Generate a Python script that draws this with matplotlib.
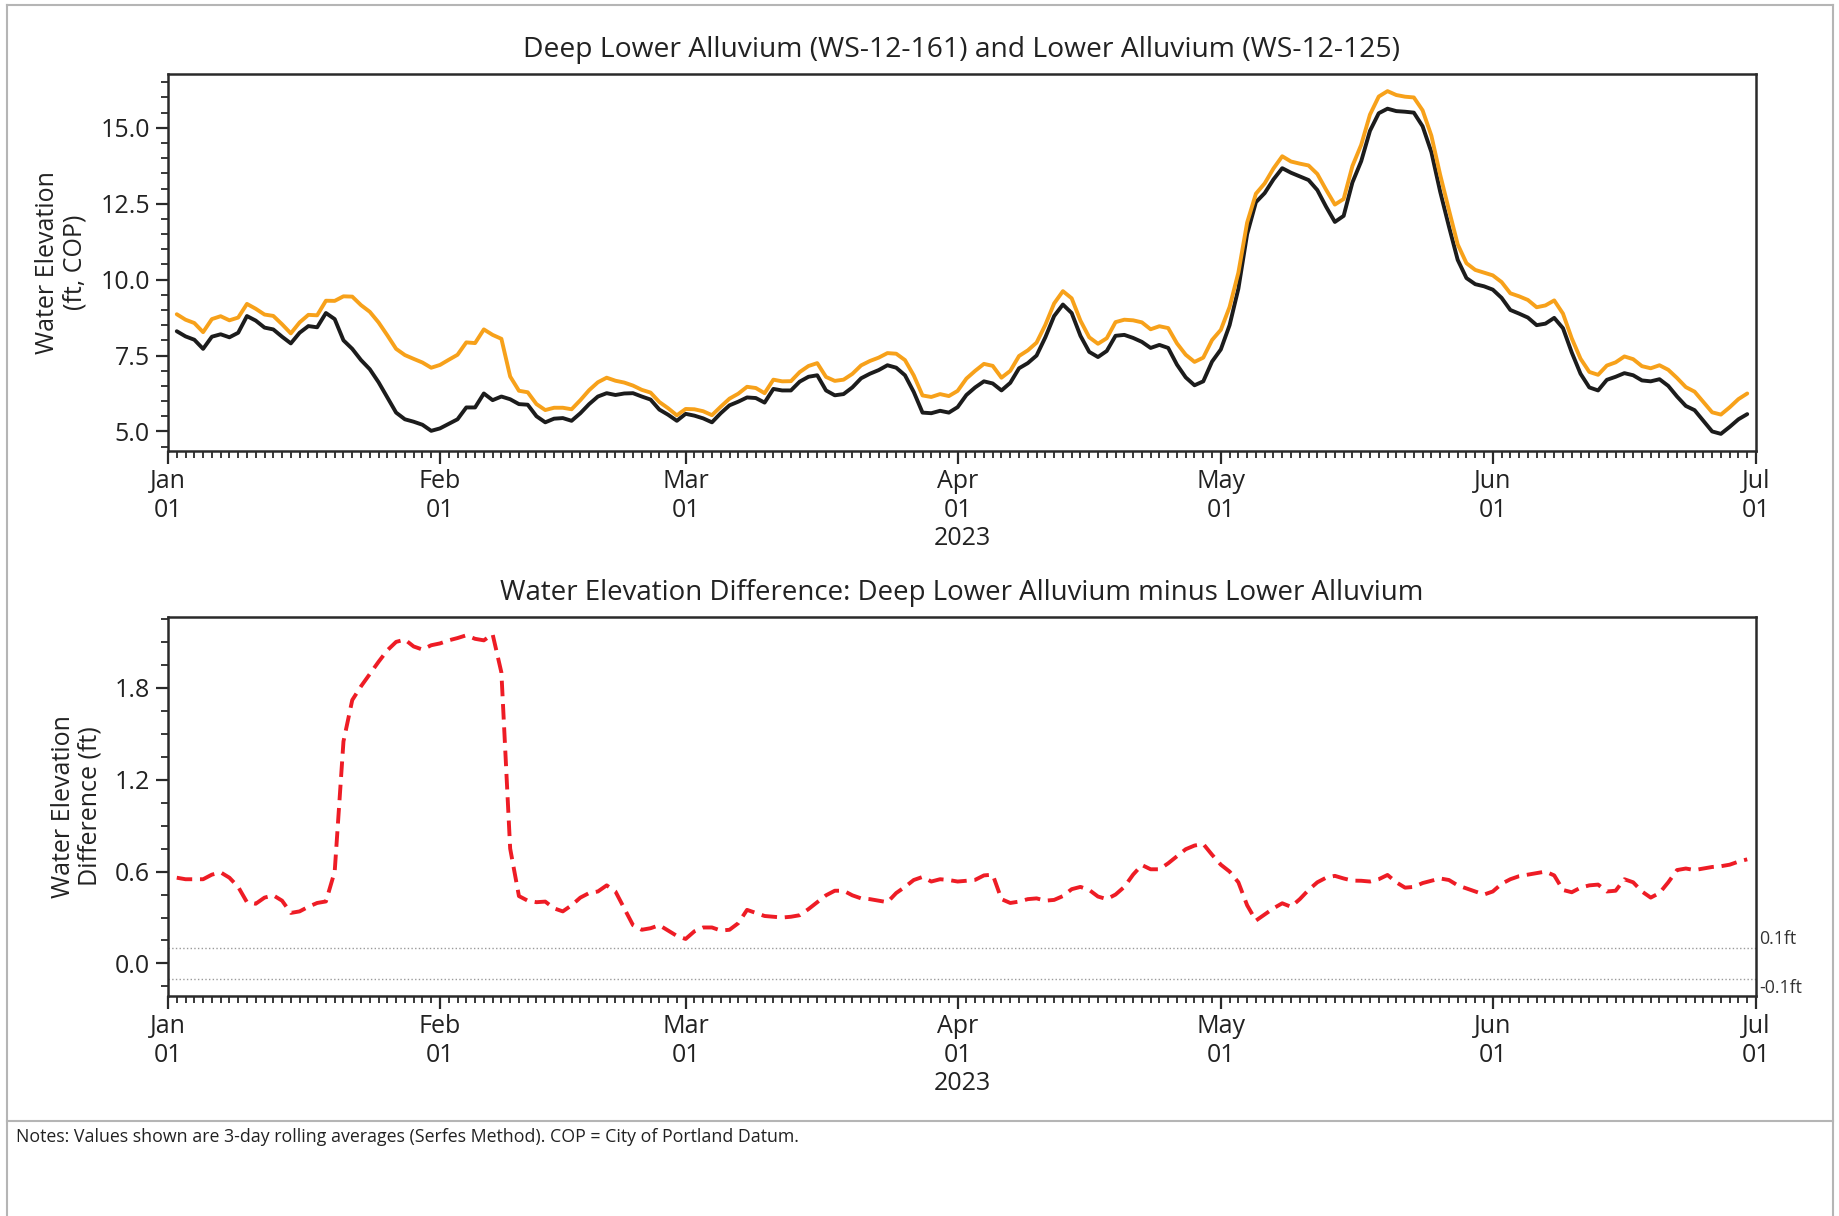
import numpy as np
import matplotlib
matplotlib.use("Agg")
import matplotlib.pyplot as plt
import matplotlib.dates as mdates
from matplotlib.ticker import AutoMinorLocator, MultipleLocator, FormatStrFormatter
from matplotlib.lines import Line2D
from matplotlib.transforms import blended_transform_factory
import datetime as dt

plt.rcParams['font.family'] = ['Open Sans', 'DejaVu Sans']

# ---------------- data (daily, 3-day rolling averages) ----------------
start_date = np.datetime64('2023-01-02')
end_date = np.datetime64('2023-07-01')   # exclusive -> last point Jun 30

# Lower Alluvium (WS-12-125), ft COP
lower_alluvium = [
    8.30, 8.13, 8.02, 7.72, 8.12, 8.20, 8.10, 8.25, 8.80, 8.65,
    8.42, 8.36, 8.12, 7.90, 8.25, 8.47, 8.43, 8.90, 8.70, 8.00,
    7.72, 7.35, 7.05, 6.62, 6.12, 5.62, 5.40, 5.32, 5.22, 5.02,
    5.10, 5.25, 5.40, 5.79, 5.79, 6.25, 6.03, 6.15, 6.06, 5.90,
    5.88, 5.50, 5.30, 5.42, 5.44, 5.35, 5.60, 5.90, 6.15, 6.26,
    6.20, 6.25, 6.26, 6.15, 6.05, 5.72, 5.55, 5.35, 5.58, 5.52,
    5.43, 5.30, 5.60, 5.86, 5.98, 6.12, 6.10, 5.95, 6.40, 6.35,
    6.35, 6.64, 6.80, 6.85, 6.35, 6.19, 6.23, 6.45, 6.75, 6.90,
    7.02, 7.18, 7.10, 6.85, 6.30, 5.62, 5.60, 5.68, 5.62, 5.80,
    6.20, 6.45, 6.65, 6.58, 6.35, 6.60, 7.08, 7.25, 7.50, 8.10,
    8.80, 9.18, 8.90, 8.15, 7.62, 7.45, 7.65, 8.15, 8.18, 8.08,
    7.95, 7.75, 7.85, 7.75, 7.20, 6.78, 6.52, 6.65, 7.30, 7.70,
    8.50, 9.70, 11.50, 12.55, 12.85, 13.30, 13.67, 13.52, 13.40, 13.28,
    12.95, 12.40, 11.90, 12.10, 13.20, 13.90, 14.90, 15.48, 15.63, 15.55,
    15.53, 15.50, 15.05, 14.20, 12.90, 11.75, 10.65, 10.05, 9.85, 9.78,
    9.67, 9.40, 9.00, 8.88, 8.75, 8.50, 8.55, 8.74, 8.40, 7.60,
    6.90, 6.45, 6.35, 6.70, 6.80, 6.92, 6.85, 6.68, 6.65, 6.72,
    6.50, 6.15, 5.84, 5.70, 5.35, 5.00, 4.92, 5.15, 5.40, 5.57,
]

# Deep Lower Alluvium minus Lower Alluvium, ft
elev_difference = [
    0.56, 0.55, 0.55, 0.55, 0.58, 0.595, 0.56, 0.50, 0.40, 0.39,
    0.43, 0.445, 0.41, 0.33, 0.34, 0.37, 0.395, 0.405, 0.60, 1.45,
    1.72, 1.81, 1.89, 1.97, 2.045, 2.10, 2.115, 2.07, 2.05, 2.078,
    2.09, 2.11, 2.125, 2.143, 2.12, 2.11, 2.15, 1.90, 0.75, 0.44,
    0.41, 0.40, 0.404, 0.36, 0.34, 0.38, 0.43, 0.46, 0.47, 0.51,
    0.47, 0.36, 0.25, 0.22, 0.23, 0.25, 0.215, 0.18, 0.16, 0.21,
    0.235, 0.235, 0.215, 0.22, 0.263, 0.35, 0.33, 0.31, 0.305, 0.30,
    0.305, 0.315, 0.355, 0.40, 0.445, 0.475, 0.475, 0.445, 0.425, 0.42,
    0.41, 0.40, 0.46, 0.50, 0.545, 0.565, 0.535, 0.55, 0.545, 0.535,
    0.54, 0.546, 0.575, 0.58, 0.42, 0.395, 0.404, 0.42, 0.425, 0.41,
    0.415, 0.44, 0.485, 0.50, 0.48, 0.437, 0.42, 0.45, 0.50, 0.58,
    0.643, 0.615, 0.615, 0.654, 0.70, 0.746, 0.77, 0.78, 0.71, 0.645,
    0.60, 0.53, 0.38, 0.28, 0.32, 0.36, 0.393, 0.37, 0.42, 0.48,
    0.53, 0.56, 0.572, 0.555, 0.541, 0.54, 0.535, 0.55, 0.578, 0.53,
    0.495, 0.50, 0.525, 0.54, 0.555, 0.545, 0.51, 0.49, 0.47, 0.45,
    0.47, 0.52, 0.55, 0.57, 0.58, 0.59, 0.60, 0.575, 0.48, 0.465,
    0.495, 0.51, 0.515, 0.47, 0.475, 0.55, 0.53, 0.47, 0.43, 0.46,
    0.53, 0.61, 0.62, 0.61, 0.62, 0.63, 0.635, 0.645, 0.665, 0.68,
]

threshold_values = [0.1, -0.1]
threshold_labels = ['0.1ft', '-0.1ft']

title_top = 'Deep Lower Alluvium (WS-12-161) and Lower Alluvium (WS-12-125)'
title_bottom = 'Water Elevation Difference: Deep Lower Alluvium minus Lower Alluvium'
note_text = ('Notes: Values shown are 3-day rolling averages (Serfes Method). '
             'COP = City of Portland Datum.')

dates = np.arange(start_date, end_date, dtype='datetime64[D]').astype('datetime64[ms]').astype(dt.datetime)
lower = np.array(lower_alluvium)
diff = np.array(elev_difference)
deep = lower + diff

# ---------------- figure ----------------
W, H = 1839, 1216
fig = plt.figure(figsize=(W / 100, H / 100), dpi=100)

def fx(px):
    return px / W

def fy(py):
    return 1 - py / H

ax_left, ax_right = 168, 1756
ax1 = fig.add_axes([fx(ax_left), fy(451), fx(ax_right - ax_left), (451 - 74) / H])
ax2 = fig.add_axes([fx(ax_left), fy(996), fx(ax_right - ax_left), (996 - 617) / H])

ORANGE = '#F7A11A'
BLACK = '#1c1c1c'
RED = '#EE1C25'
SPINE = '#2a2a2a'
TXT = '#222222'

ax1.plot(dates, lower, color=BLACK, lw=2.8, solid_capstyle='round', solid_joinstyle='round')
ax1.plot(dates, deep, color=ORANGE, lw=2.8, solid_capstyle='round', solid_joinstyle='round')

ax2.plot(dates, diff, color=RED, lw=2.8, linestyle='--', dashes=(4.0, 2.0),
         dash_joinstyle='round')
xmin = dt.datetime(2023, 1, 1)
xmax = dt.datetime(2023, 7, 1)
ax2.hlines(threshold_values, xmin, xmax, colors='#9a9a9a', linestyles=':', lw=1.0)

tick_fs = 18
for ax in (ax1, ax2):
    ax.set_xlim(xmin, xmax)
    ax.xaxis.set_major_locator(mdates.MonthLocator())
    ax.xaxis.set_major_formatter(mdates.DateFormatter('%b\n%d'))
    ax.xaxis.set_minor_locator(mdates.DayLocator())
    ax.tick_params(axis='both', which='major', length=9, width=1.6, color=SPINE,
                   labelsize=tick_fs, labelcolor=TXT, pad=4)
    ax.tick_params(axis='both', which='minor', length=5, width=1.3, color=SPINE)
    for s in ax.spines.values():
        s.set_linewidth(1.8)
        s.set_color(SPINE)
    ax.set_xlabel('2023', fontsize=tick_fs, color=TXT, labelpad=2)

ax1.yaxis.set_major_locator(MultipleLocator(2.5))
ax1.yaxis.set_minor_locator(AutoMinorLocator(5))
ax1.yaxis.set_major_formatter(FormatStrFormatter('%.1f'))
ax2.yaxis.set_major_locator(MultipleLocator(0.6))
ax2.yaxis.set_minor_locator(AutoMinorLocator(4))
ax2.yaxis.set_major_formatter(FormatStrFormatter('%.1f'))

ax1.set_title(title_top, fontsize=20.3, color=TXT, pad=12.5)
ax2.set_title(title_bottom, fontsize=19.9, color=TXT, pad=12.5)

ax1.set_ylabel('Water Elevation\n(ft, COP)', fontsize=18, color=TXT, linespacing=1.1)
ax1.yaxis.set_label_coords(-0.051, 0.5)
ax2.set_ylabel('Water Elevation\nDifference (ft)', fontsize=18, color=TXT, linespacing=1.1)
ax2.yaxis.set_label_coords(-0.041, 0.5)

trans = blended_transform_factory(ax2.transAxes, ax2.transData)
for val, lab in zip(threshold_values, threshold_labels):
    ax2.text(1.002, val, lab, transform=trans, fontsize=12.8, color='#333333',
             ha='left', va='bottom' if val > 0 else 'top')

# frame and notes area
border = '#b5b5b5'
fig.add_artist(Line2D([fx(7), fx(7)], [0, fy(5)], color=border, lw=1.5))
fig.add_artist(Line2D([fx(1833), fx(1833)], [0, fy(5)], color=border, lw=1.5))
fig.add_artist(Line2D([fx(7), fx(1833)], [fy(5), fy(5)], color=border, lw=1.5))
fig.add_artist(Line2D([fx(7), fx(1833)], [fy(1121), fy(1121)], color=border, lw=1.5))
fig.text(fx(16), fy(1137), note_text, fontsize=12.8, color=TXT, ha='left', va='center')

fig.savefig('out.png', dpi=100, facecolor='white')
